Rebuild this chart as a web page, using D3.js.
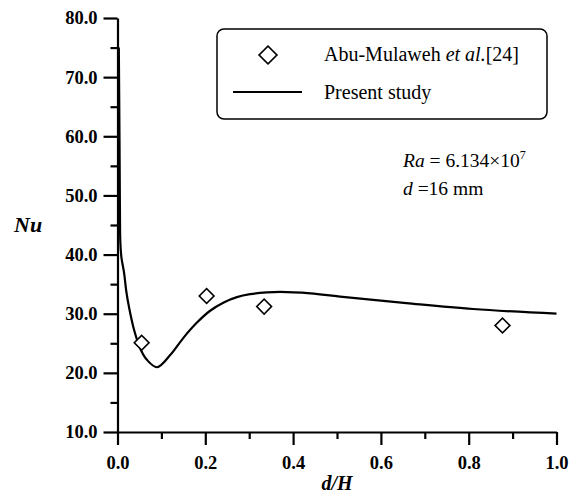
<!DOCTYPE html>
<html><head><meta charset="utf-8">
<script src="https://cdn.jsdelivr.net/npm/d3@7"></script>
<style>body{margin:0;background:#fff}svg{display:block}</style>
</head><body>
<svg id="c" width="576" height="494"></svg>
<script>
// Data
const expX = [0.055, 0.203, 0.334, 0.877];
const expNu = [25.1, 33.0, 31.2, 28.0];
const simX = [0.003, 0.0045, 0.0055, 0.0065, 0.009, 0.015, 0.02, 0.026, 0.038, 0.053, 0.067, 0.09, 0.12, 0.151, 0.181, 0.211, 0.242, 0.272, 0.302, 0.34, 0.37, 0.44, 0.507, 0.658, 0.81, 1.0];
const simNu = [75.0, 60.0, 48.0, 42.0, 39.5, 36.9, 33.8, 31.2, 27.2, 23.9, 22.2, 20.95, 23.0, 26.0, 28.5, 30.5, 31.9, 32.8, 33.3, 33.6, 33.7, 33.45, 32.9, 31.8, 30.8, 30.0];
const xMajor = [0.0, 0.2, 0.4, 0.6, 0.8, 1.0];
const xMinor = [0.1, 0.3, 0.5, 0.7, 0.9];
const yMajor = [10, 20, 30, 40, 50, 60, 70, 80];
const yMinor = [15, 25, 35, 45, 55, 65, 75];
const legendLabels = ["Abu-Mulaweh ", "et al.", "[24]", "Present study"];

const svg = d3.select("#c");
const x = d3.scaleLinear().domain([0, 1]).range([117.5, 556.5]);
const y = d3.scaleLinear().domain([10, 80]).range([432, 18]);

const serif = "'Liberation Serif','Times New Roman',serif";

// Y axis
svg.append("g").attr("transform", "translate(117.5,0)")
  .call(d3.axisLeft(y).tickValues(yMajor).tickSize(14).tickSizeOuter(0).tickPadding(6).tickFormat(d3.format(".1f")));
svg.append("g").attr("transform", "translate(117.5,0)")
  .call(d3.axisLeft(y).tickValues(yMinor).tickSize(7).tickSizeOuter(0).tickFormat(""))
  .select(".domain").remove();

// X axis
svg.append("g").attr("transform", "translate(0,432)")
  .call(d3.axisBottom(x).tickValues(xMajor).tickSize(13).tickSizeOuter(0).tickPadding(11).tickFormat(d3.format(".1f")));
svg.append("g").attr("transform", "translate(0,432)")
  .call(d3.axisBottom(x).tickValues(xMinor).tickSize(7).tickSizeOuter(0).tickFormat(""))
  .select(".domain").remove();

svg.selectAll(".domain, .tick line").attr("stroke", "#000").attr("stroke-width", 2.2);
svg.selectAll(".tick text").attr("font-family", serif).attr("font-weight", "bold")
  .attr("font-size", 18.5).attr("fill", "#000");

// axis titles
svg.append("text").attr("x", 14).attr("y", 232).attr("font-family", serif)
  .attr("font-weight", "bold").attr("font-style", "italic").attr("font-size", 22).text("Nu");
svg.append("text").attr("x", 337).attr("y", 490).attr("text-anchor", "middle").attr("font-family", serif)
  .attr("font-weight", "bold").attr("font-style", "italic").attr("font-size", 20).text("d/H");

// Curve
const pts = simX.map((v, i) => [v, simNu[i]]);
svg.append("path").datum(pts)
  .attr("d", d3.line().x(d => x(d[0])).y(d => y(d[1])).curve(d3.curveCatmullRom.alpha(0.5)))
  .attr("fill", "none").attr("stroke", "#000").attr("stroke-width", 2.2);

// Diamonds
const dsym = d3.symbol().type(d3.symbolSquare).size(110);
svg.selectAll(".exp").data(expX.map((v, i) => [v, expNu[i]])).join("path")
  .attr("class", "exp")
  .attr("d", dsym)
  .attr("transform", d => `translate(${x(d[0])},${y(d[1])}) rotate(45)`)
  .attr("fill", "#fff").attr("stroke", "#000").attr("stroke-width", 1.6);

// Legend
svg.append("rect").attr("x", 217).attr("y", 29).attr("width", 330).attr("height", 90).attr("rx", 7)
  .attr("fill", "#fff").attr("stroke", "#000").attr("stroke-width", 1.5);
svg.append("path").attr("d", d3.symbol().type(d3.symbolSquare).size(160))
  .attr("transform", "translate(268,55) rotate(45)")
  .attr("fill", "#fff").attr("stroke", "#000").attr("stroke-width", 1.6);
const t1 = svg.append("text").attr("x", 324).attr("y", 61).attr("font-family", serif).attr("font-size", 20);
t1.append("tspan").text(legendLabels[0]);
t1.append("tspan").attr("font-style", "italic").text(legendLabels[1]);
t1.append("tspan").text(legendLabels[2]);
svg.append("line").attr("x1", 233).attr("x2", 302).attr("y1", 92).attr("y2", 92)
  .attr("stroke", "#000").attr("stroke-width", 2);
svg.append("text").attr("x", 324).attr("y", 99).attr("font-family", serif).attr("font-size", 20).text(legendLabels[3]);

// Annotation
const a1 = svg.append("text").attr("x", 403).attr("y", 167).attr("font-family", serif).attr("font-size", 19.5);
a1.append("tspan").attr("font-style", "italic").text("Ra");
a1.append("tspan").text(" = 6.134×10");
a1.append("tspan").attr("font-size", 12).attr("dy", -8).text("7");
const a2 = svg.append("text").attr("x", 403).attr("y", 195).attr("font-family", serif).attr("font-size", 19.5);
a2.append("tspan").attr("font-style", "italic").text("d");
a2.append("tspan").text(" =16 mm");
</script>
</body></html>
